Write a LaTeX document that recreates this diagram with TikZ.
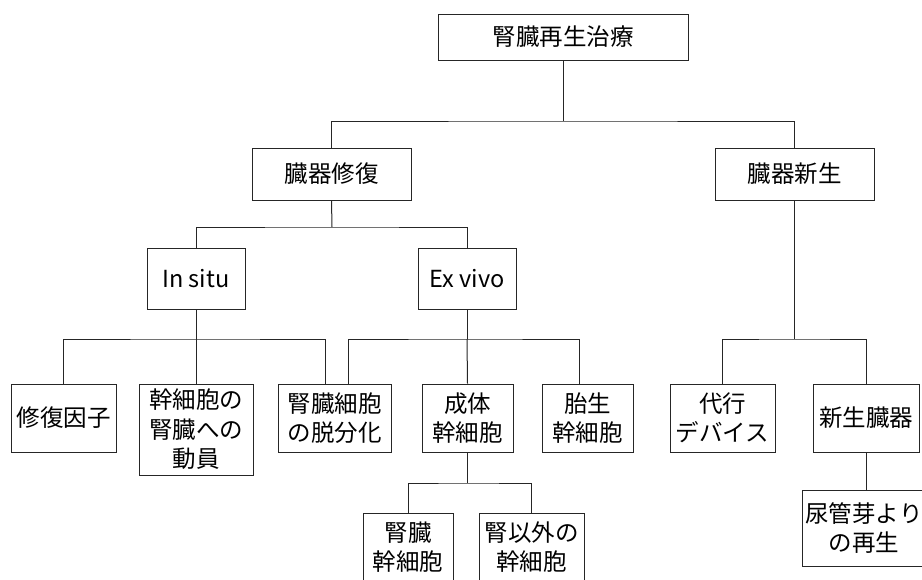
\documentclass[tikz,border=0pt]{standalone}
\usepackage{fontspec}
\setmainfont{Noto Sans CJK JP}
\begin{document}
\begin{tikzpicture}[x=1pt,y=-1pt,
  box/.style={draw=black!85,line width=1pt,inner sep=0pt,align=center,
    font=\fontsize{23.5}{29.5}\selectfont},
  conn/.style={draw=black!85,line width=1pt}]
\useasboundingbox (0,0) rectangle (922,579);
\clip (0,0) rectangle (922,579);
\node[box,minimum width=250,minimum height=46] (root) at (563,37) {腎臓再生治療};
\node[box,minimum width=159,minimum height=52] (repair) at (331.5,174) {臓器修復};
\node[box,minimum width=159,minimum height=52] (newgen) at (794.5,174) {臓器新生};
\node[box,minimum width=98,minimum height=61] (insitu) at (196,278.5) {In situ};
\node[box,minimum width=98,minimum height=61] (exvivo) at (467,278.5) {Ex vivo};
\node[box,minimum width=105,minimum height=68] (f1) at (63.5,418) {修復因子};
\node[box,minimum width=114,minimum height=91] (f2) at (196,429.5) {幹細胞の\\腎臓への\\動員};
\node[box,minimum width=113,minimum height=68] (f3) at (334.5,418) {腎臓細胞\\の脱分化};
\node[box,minimum width=91,minimum height=68] (f4) at (467.5,418) {成体\\幹細胞};
\node[box,minimum width=91,minimum height=68] (f5) at (587.5,418) {胎生\\幹細胞};
\node[box,minimum width=105,minimum height=68] (f6) at (722.5,418) {代行\\デバイス};
\node[box,minimum width=106,minimum height=68] (f7) at (866,418) {新生臓器};
\node[box,minimum width=124,minimum height=76] (f8) at (864,528) {尿管芽より\\の再生};
\node[box,minimum width=90,minimum height=68] (g1) at (408,547) {腎臓\\幹細胞};
\node[box,minimum width=105,minimum height=68] (g2) at (531.5,547) {腎以外の\\幹細胞};
\coordinate (b1) at (563,121);
\coordinate (b2) at (332,227);
\coordinate (b3) at (196,339);
\coordinate (b4) at (467,339);
\coordinate (b5) at (794.5,339);
\coordinate (b6) at (467.5,483);
\draw[conn] (root.south) -- (b1);
\draw[conn] (repair.north) |- (b1) -| (newgen.north);
\draw[conn] (repair.south) -- (b2);
\draw[conn] (insitu.north) |- (b2) -| (exvivo.north);
\draw[conn] (insitu.south) -- (b3);
\draw[conn] (f1.north) |- (b3) -| ([xshift=-9.5pt]f3.north);
\draw[conn] (f2.north) -- (b3);
\draw[conn] (exvivo.south) -- (b4);
\draw[conn] ([xshift=13.5pt]f3.north) |- (b4) -| ([xshift=-8.5pt]f5.north);
\draw[conn] (f4.north) -- (b4);
\draw[conn] (newgen.south) -- (b5);
\draw[conn] (f6.north) |- (b5) -| (f7.north);
\draw[conn] (f4.south) -- (b6);
\draw[conn] (g1.north) |- (b6) -| (g2.north);
\draw[conn] (f7.south) -- (f7.south |- f8.north);
\end{tikzpicture}
\end{document}
